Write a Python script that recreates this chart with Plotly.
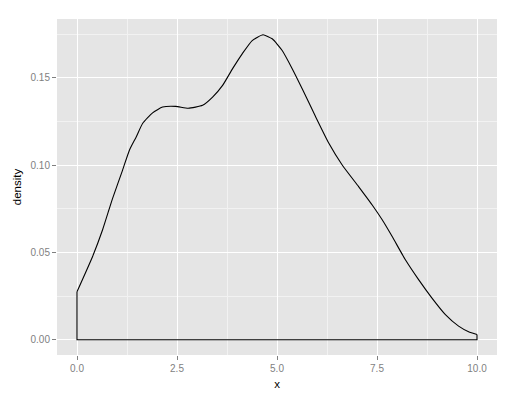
import plotly.graph_objects as go

# density curve
x_vals = [0.0, 0.39, 0.64, 0.89, 1.14, 1.31, 1.48, 1.64, 1.89, 2.14, 2.47, 2.78, 3.14,
          3.39, 3.64, 3.89, 4.13, 4.38, 4.65, 4.88, 5.13, 5.38, 5.63, 5.96, 6.30, 6.63,
          7.04, 7.38, 7.63, 7.88, 8.21, 8.54, 8.87, 9.21, 9.54, 9.79, 10.0]
density = [0.0275, 0.0477, 0.063, 0.081, 0.0972, 0.1086, 0.1162, 0.1239, 0.130, 0.1333,
           0.1337, 0.1326, 0.1343, 0.139, 0.1457, 0.1553, 0.1638, 0.1714, 0.1747, 0.1724,
           0.1657, 0.1553, 0.1438, 0.128, 0.1124, 0.1001, 0.0877, 0.0772, 0.0687, 0.0591,
           0.0458, 0.0344, 0.024, 0.0144, 0.0078, 0.0046, 0.003]

# polygon closure (left edge, baseline, right edge)
base_x = [0.0, 0.0, 10.0, 10.0]
base_y = [0.0275, 0.0, 0.0, 0.003]

x_ticks = [0, 2.5, 5, 7.5, 10]
x_tick_labels = ["0.0", "2.5", "5.0", "7.5", "10.0"]
y_ticks = [0, 0.05, 0.10, 0.15]
y_tick_labels = ["0.00", "0.05", "0.10", "0.15"]

fig = go.Figure()
fig.add_trace(go.Scatter(x=x_vals, y=density, mode="lines",
                         line=dict(color="black", width=1.1, shape="spline", smoothing=0.5),
                         hoverinfo="skip", showlegend=False))
fig.add_trace(go.Scatter(x=base_x, y=base_y, mode="lines",
                         line=dict(color="black", width=1.1),
                         hoverinfo="skip", showlegend=False))

tick_font = dict(family="Liberation Sans, Arial, sans-serif", size=10, color="#7F7F7F")
title_font = dict(family="Liberation Sans, Arial, sans-serif", size=11.5, color="black")

fig.update_layout(
    width=510, height=392,
    margin=dict(l=49, r=21, t=11, b=45),
    paper_bgcolor="white",
    plot_bgcolor="#E5E5E5",
    xaxis=dict(range=[-0.5, 10.5], tickvals=x_ticks, ticktext=x_tick_labels,
               showgrid=True, gridcolor="white", gridwidth=1,
               zeroline=False, showline=False, automargin=False,
               ticks="outside", ticklen=4, tickcolor="#7F7F7F", tickwidth=1,
               tickfont=tick_font,
               minor=dict(tickvals=[1.25, 3.75, 6.25, 8.75], showgrid=True,
                          gridcolor="#F2F2F2", gridwidth=0.6, ticks=""),
               title=dict(text="x", font=title_font, standoff=6)),
    yaxis=dict(range=[-0.00875, 0.18375], tickvals=y_ticks, ticktext=y_tick_labels,
               showgrid=True, gridcolor="white", gridwidth=1,
               zeroline=False, showline=False, automargin=False,
               ticks="outside", ticklen=4, tickcolor="#7F7F7F", tickwidth=1,
               tickfont=tick_font,
               minor=dict(tickvals=[0.025, 0.075, 0.125, 0.175], showgrid=True,
                          gridcolor="#F2F2F2", gridwidth=0.6, ticks=""),
               title=dict(text="density", font=title_font, standoff=6)),
)

fig.write_html("out.html")
